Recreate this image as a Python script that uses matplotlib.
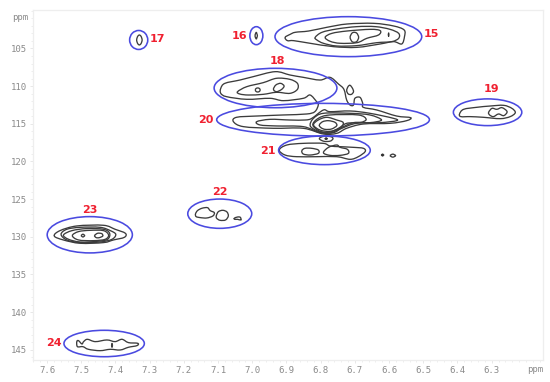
# coding:utf-8
import matplotlib
matplotlib.use('Agg')
import matplotlib.pyplot as plt
from matplotlib.patches import Ellipse, PathPatch
from matplotlib.path import Path

# contour outlines, (1H ppm, 13C ppm)
c15_outer = [(6.904,103.52),(6.889,103.12),(6.874,102.85),(6.835,102.68),(6.782,102.19),(6.723,101.75),(6.645,101.66),(6.587,102.01),(6.556,102.54),(6.555,103.43),(6.563,104.40),(6.587,104.09),(6.626,104.40),(6.694,104.85),(6.762,104.76),(6.831,104.31),(6.879,103.96),(6.897,103.96)]
c15_mid = [(6.816,103.52),(6.796,102.85),(6.753,102.41),(6.694,102.10),(6.640,102.10),(6.597,102.46),(6.572,102.99),(6.572,103.65),(6.592,104.09),(6.636,104.23),(6.694,104.62),(6.753,104.67),(6.792,104.31),(6.811,103.87)]
c15_in = [(6.787,103.52),(6.767,102.99),(6.723,102.68),(6.655,102.46),(6.626,102.63),(6.631,103.21),(6.665,103.65),(6.694,104.23),(6.743,104.31),(6.772,104.05)]
c15_oval = [(6.714,103.52),(6.709,102.99),(6.702,102.85),(6.694,102.99),(6.689,103.52),(6.694,104.05),(6.702,104.18),(6.709,104.05)]
c15_dot = [(6.603,103.16),(6.601,102.90),(6.600,103.16),(6.601,103.43)]
c16 = [(6.992,103.30),(6.990,102.99),(6.988,102.85),(6.987,102.99),(6.985,103.30),(6.987,103.61),(6.988,103.74),(6.990,103.61)]
c17 = [(7.338,103.87),(7.335,103.40),(7.330,103.21),(7.325,103.40),(7.322,103.87),(7.325,104.34),(7.330,104.53),(7.335,104.34)]

# 18 and 20 share one outer level
c18_20_outer = [(7.092,110.29),(7.080,109.63),(7.036,109.19),(6.997,108.74),(6.933,108.08),(6.890,108.52),(6.851,108.83),(6.802,109.19),(6.773,108.83),(6.748,109.72),(6.732,110.43),(6.724,111.84),(6.714,112.51),(6.704,112.51),(6.700,111.62),(6.685,111.49),(6.677,112.28),(6.675,112.82),(6.636,113.17),(6.578,113.97),(6.537,114.19),(6.549,114.59),(6.597,114.94),(6.675,115.03),(6.724,115.60),(6.753,116.27),(6.792,116.36),(6.851,115.60),(6.938,115.60),(7.026,115.38),(7.055,114.72),(7.046,114.14),(6.987,113.97),(6.909,113.83),(6.841,113.70),(6.817,113.39),(6.807,112.51),(6.812,112.06),(6.831,111.18),(6.851,111.62),(6.909,111.93),(6.948,111.62),(7.016,111.75),(7.075,111.40),(7.092,110.96)]
c18_mid = [(7.043,110.74),(7.016,110.07),(6.968,109.54),(6.929,108.96),(6.890,109.10),(6.868,109.63),(6.868,110.43),(6.890,110.96),(6.929,110.82),(6.968,111.09),(7.011,111.18),(7.036,111.05)]
c18_a = [(6.991,110.51),(6.989,110.32),(6.984,110.24),(6.979,110.32),(6.977,110.51),(6.979,110.70),(6.984,110.78),(6.989,110.70)]
c18_b = [(6.938,110.43),(6.931,109.85),(6.917,109.63),(6.907,109.98),(6.914,110.43),(6.929,110.74)]
c_side = [(6.724,110.60),(6.720,110.07),(6.714,109.89),(6.707,110.29),(6.704,110.74),(6.710,111.09),(6.719,111.05)]

c20_2 = [(6.987,114.72),(6.948,114.41),(6.890,114.50),(6.846,114.50),(6.826,114.28),(6.792,113.17),(6.773,113.39),(6.714,113.30),(6.656,113.61),(6.587,114.28),(6.578,114.59),(6.626,114.85),(6.695,114.94),(6.738,115.60),(6.763,116.18),(6.802,116.18),(6.851,115.38),(6.929,115.29),(6.977,115.16)]
c20_3 = [(6.831,115.16),(6.821,114.28),(6.792,113.61),(6.714,113.61),(6.656,113.83),(6.622,114.50),(6.656,114.85),(6.704,114.85),(6.743,115.60),(6.768,116.18),(6.797,116.14),(6.821,115.69)]
c20_4 = [(6.823,115.16),(6.807,114.28),(6.773,113.83),(6.690,113.83),(6.667,114.41),(6.685,114.85),(6.724,114.94),(6.748,115.60),(6.773,116.09),(6.802,116.00)]
c20_5 = [(6.821,115.16),(6.807,114.50),(6.782,114.14),(6.753,114.50),(6.734,114.85),(6.743,115.60),(6.773,116.00),(6.802,115.83)]
c20_6 = [(6.804,115.16),(6.794,114.72),(6.777,114.59),(6.758,114.81),(6.753,115.25),(6.768,115.69),(6.787,115.74),(6.799,115.52)]
c20_low = [(6.804,116.98),(6.792,116.68),(6.770,116.72),(6.764,116.98),(6.772,117.30),(6.790,117.33)]
c20_dot = [(6.788,116.98),(6.784,116.85),(6.780,116.98),(6.784,117.11)]

c21_outer = [(6.921,118.48),(6.899,117.82),(6.851,117.60),(6.792,117.60),(6.773,117.95),(6.743,118.04),(6.704,118.13),(6.675,118.26),(6.670,118.70),(6.690,119.37),(6.714,119.72),(6.753,119.37),(6.812,119.37),(6.870,119.37),(6.904,119.15)]
c21_a = [(6.855,118.57),(6.846,118.26),(6.826,118.26),(6.807,118.48),(6.807,118.93),(6.831,119.15),(6.851,119.01)]
c21_b = [(6.792,118.84),(6.777,118.13),(6.753,117.82),(6.743,118.13),(6.722,118.39),(6.719,118.93),(6.743,119.19),(6.773,119.19)]
c_spot1 = [(6.623,119.15),(6.619,119.00),(6.615,119.15),(6.619,119.30)]
c_spot2 = [(6.597,119.23),(6.589,119.03),(6.581,119.23),(6.589,119.43)]

c19_outer = [(6.394,113.70),(6.382,113.08),(6.343,112.81),(6.304,112.64),(6.265,112.55),(6.241,112.95),(6.231,113.52),(6.246,114.05),(6.275,114.32),(6.324,114.14),(6.363,114.05),(6.390,114.05)]
c19_in = [(6.309,113.48),(6.299,112.95),(6.285,113.08),(6.270,112.86),(6.255,113.39),(6.265,113.92),(6.280,113.70),(6.295,114.05),(6.306,113.83)]

c22_a = [(7.166,126.98),(7.160,126.53),(7.147,126.22),(7.131,126.14),(7.123,126.53),(7.111,126.80),(7.115,127.24),(7.133,127.51),(7.152,127.46),(7.164,127.33)]
c22_b = [(7.105,127.20),(7.099,126.67),(7.086,126.49),(7.074,126.71),(7.070,127.24),(7.078,127.77),(7.094,127.82),(7.104,127.55)]
c22_c = [(7.053,127.55),(7.043,127.38),(7.035,127.42),(7.033,127.77),(7.043,127.69),(7.051,127.69)]

c23_1 = [(7.579,129.90),(7.562,129.19),(7.513,128.57),(7.435,128.48),(7.401,129.01),(7.371,129.54),(7.374,130.08),(7.406,130.43),(7.435,130.78),(7.503,130.87),(7.552,130.43)]
c23_2 = [(7.559,129.68),(7.542,129.01),(7.503,128.75),(7.445,128.75),(7.415,129.19),(7.399,129.68),(7.410,130.34),(7.445,130.70),(7.503,130.78),(7.542,130.43)]
c23_3 = [(7.552,129.77),(7.527,129.19),(7.484,128.92),(7.435,129.01),(7.417,129.54),(7.423,130.34),(7.454,130.61),(7.503,130.70),(7.537,130.34)]
c23_4 = [(7.526,129.85),(7.508,129.32),(7.474,129.15),(7.435,129.19),(7.420,129.77),(7.430,130.34),(7.464,130.52),(7.508,130.43)]
c23_a = [(7.461,129.85),(7.452,129.54),(7.440,129.59),(7.437,129.90),(7.447,130.12),(7.456,130.12)]
c23_dot = [(7.500,129.85),(7.495,129.67),(7.490,129.85),(7.495,130.03)]

c24 = [(7.513,143.93),(7.508,143.80),(7.498,144.24),(7.493,143.93),(7.482,143.62),(7.459,143.93),(7.425,143.71),(7.401,143.93),(7.381,143.62),(7.362,144.06),(7.335,144.15),(7.337,144.46),(7.362,144.68),(7.386,145.04),(7.415,144.95),(7.445,145.13),(7.479,144.95),(7.495,144.60),(7.511,144.60)]
c24_dot = [(7.412,144.42),(7.410,144.12),(7.408,144.42),(7.410,144.72)]

contours = [c15_outer, c15_mid, c15_in, c15_oval, c16, c17, c18_20_outer, c18_mid, c18_a, c18_b, c_side,
            c20_2, c20_3, c20_4, c20_5, c20_6, c20_low, c21_outer, c21_a, c21_b, c_spot2,
            c19_outer, c19_in, c22_a, c22_b, c22_c, c23_1, c23_2, c23_3, c23_4, c23_a, c23_dot, c24]
dots = [c15_dot, c20_dot, c_spot1, c24_dot]

# peak number, ellipse centre x, y, width, height, label x, y
peak_ids = ['15', '16', '17', '18', '19', '20', '21', '22', '23', '24']
ell_x = [6.719, 6.988, 7.332, 6.932, 6.312, 6.793, 6.789, 7.095, 7.475, 7.433]
ell_y = [103.43, 103.30, 103.87, 110.25, 113.47, 114.46, 118.52, 126.94, 129.74, 144.18]
ell_w = [0.429, 0.038, 0.053, 0.359, 0.200, 0.622, 0.268, 0.187, 0.249, 0.235]
ell_h = [5.31, 2.39, 2.52, 5.23, 3.55, 4.34, 3.81, 3.89, 4.82, 3.51]
label_x = [6.475, 7.036, 7.278, 6.927, 6.302, 7.136, 6.954, 7.096, 7.474, 7.581]
label_y = [103.08, 103.34, 103.74, 106.62, 110.34, 114.50, 118.57, 124.01, 126.45, 144.15]

x_ticks = [7.6, 7.5, 7.4, 7.3, 7.2, 7.1, 7.0, 6.9, 6.8, 6.7, 6.6, 6.5, 6.4, 6.3]
y_ticks = [105, 110, 115, 120, 125, 130, 135, 140, 145]


def closed_curve(c):
    # bezier path through the read points, so the outline is not angular
    n = len(c)
    verts = [c[0]]
    codes = [Path.MOVETO]
    for i in range(n):
        p0, p1, p2, p3 = c[i - 1], c[i], c[(i + 1) % n], c[(i + 2) % n]
        verts.append((p1[0] + (p2[0] - p0[0]) / 6, p1[1] + (p2[1] - p0[1]) / 6))
        verts.append((p2[0] - (p3[0] - p1[0]) / 6, p2[1] - (p3[1] - p1[1]) / 6))
        verts.append(p2)
        codes += [Path.CURVE4, Path.CURVE4, Path.CURVE4]
    return Path(verts, codes)


fig = plt.figure(figsize=(5.5, 3.82), dpi=100)
ax = fig.add_axes([33 / 550, 1 - 360 / 382, 510 / 550, 350 / 382])

for c in contours:
    ax.add_patch(PathPatch(closed_curve(c), fill=False, ec='#3c3c3c', lw=0.95))
for c in dots:
    ax.add_patch(PathPatch(closed_curve(c), fc='#303030', ec='#303030', lw=0.6))

for i in range(len(peak_ids)):
    ax.add_patch(Ellipse((ell_x[i], ell_y[i]), ell_w[i], ell_h[i], fill=False, ec='#4a4ae0', lw=1.15, zorder=3))
    ax.text(label_x[i], label_y[i], peak_ids[i], color='#f02030', fontsize=8, fontweight='bold',
            ha='center', va='center')

ax.set_xlim(7.641, 6.150)
ax.set_ylim(146.37, 99.89)
ax.set_xticks(x_ticks)
ax.set_xticklabels(['%.1f' % v for v in x_ticks])
ax.set_yticks(y_ticks)
ax.set_xticks([7.64 - 0.02 * i for i in range(75)], minor=True)
ax.set_yticks(list(range(100, 147)), minor=True)
ax.tick_params(which='major', length=2.5, width=0.6, color='#e4e4e4', labelcolor='#8a8a8a', labelsize=6.5, pad=2)
ax.tick_params(which='minor', length=1.5, width=0.5, color='#e8e8e8')
for lab in ax.get_xticklabels() + ax.get_yticklabels():
    lab.set_family('DejaVu Sans Mono')
for s in ax.spines.values():
    s.set_color('#eeeeee')
    s.set_linewidth(0.9)

ax.text(535 / 550, 12 / 382, 'ppm', transform=fig.transFigure, color='#8a8a8a', fontsize=6.5,
        family='DejaVu Sans Mono', ha='center', va='center')
ax.text(20 / 550, 1 - 18 / 382, 'ppm', transform=fig.transFigure, color='#8a8a8a', fontsize=6.5,
        family='DejaVu Sans Mono', ha='center', va='center')

fig.savefig('out.png', dpi=100)
